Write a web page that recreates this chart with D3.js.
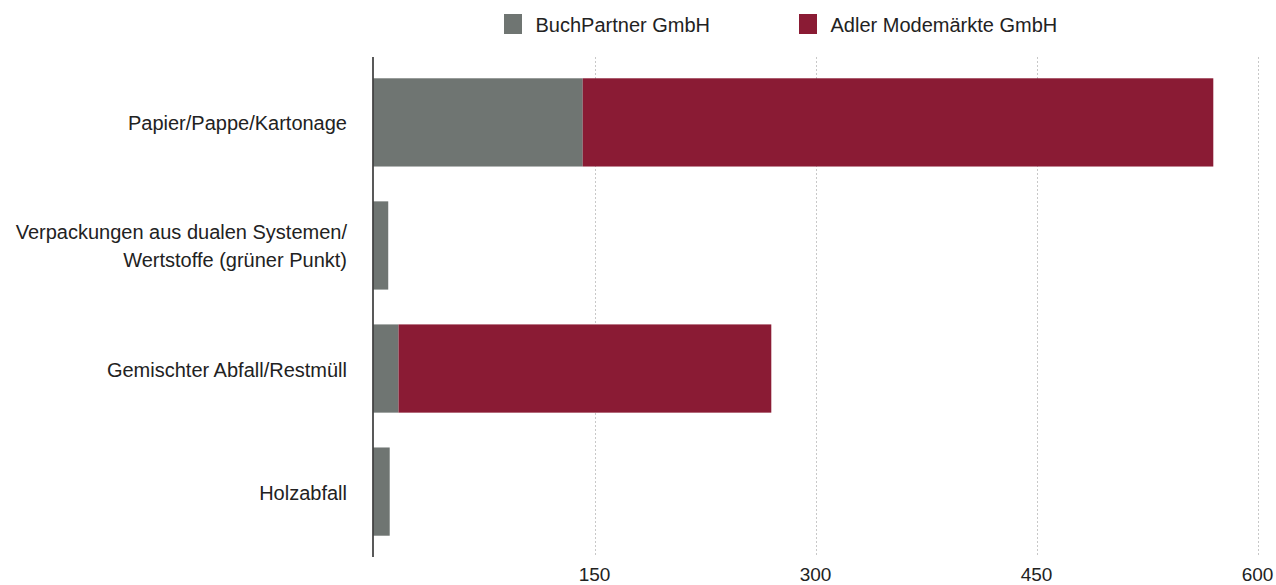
<!DOCTYPE html>
<html><head><meta charset="utf-8">
<script src="https://cdn.jsdelivr.net/npm/d3@7"></script>
<style>
html,body{margin:0;padding:0;background:#fff;}
text{font-family:"Liberation Sans",Arial,Helvetica,sans-serif;}
</style></head>
<body><svg id="c" width="1276" height="585"></svg>
<script>
const categories = [
  ["Papier/Pappe/Kartonage"],
  ["Verpackungen aus dualen Systemen/", "Wertstoffe (grüner Punkt)"],
  ["Gemischter Abfall/Restmüll"],
  ["Holzabfall"]
];
const seriesNames = ["BuchPartner GmbH", "Adler Modemärkte GmbH"];
const buchPartner = [142, 10, 17, 11];
const adler = [428, 0, 253, 0];
const tickValues = [150, 300, 450, 600];
const colors = ["#6f7572", "#8a1b34"];

const svg = d3.select("#c");
const x = d3.scaleLinear().domain([0, 600]).range([373.5, 1257.5]);
const keys = categories.map((c, i) => i);
const y = d3.scaleBand().domain(keys).range([57, 557]).paddingInner(0.283).paddingOuter(0.173);

// gridlines
svg.append("g").selectAll("line").data(tickValues).join("line")
  .attr("x1", d => Math.round(x(d)) + 0.5).attr("x2", d => Math.round(x(d)) + 0.5)
  .attr("y1", 57).attr("y2", 557)
  .attr("stroke", "#c8c8c8").attr("stroke-width", 1).attr("stroke-dasharray", "2,2");

// stacked data
const rows = keys.map(i => ({i, a: buchPartner[i], b: adler[i]}));
const stack = d3.stack().keys(["a", "b"])(rows);
svg.append("g").selectAll("g").data(stack).join("g")
  .attr("fill", (d, k) => colors[k])
  .selectAll("rect").data(d => d).join("rect")
  .attr("x", d => x(d[0]))
  .attr("width", d => Math.max(0, x(d[1]) - x(d[0])))
  .attr("y", d => y(d.data.i))
  .attr("height", y.bandwidth());

// axis line
svg.append("line").attr("x1", 373).attr("x2", 373).attr("y1", 57).attr("y2", 557)
  .attr("stroke", "#222").attr("stroke-width", 1.5);

// category labels
const lab = svg.append("g").selectAll("text").data(keys).join("text")
  .attr("text-anchor", "end").attr("font-size", 20).attr("fill", "#222");
lab.each(function(i) {
  const lines = categories[i];
  const cy = y(i) + y.bandwidth() / 2;
  const lh = 28;
  const t = d3.select(this);
  lines.forEach((ln, j) => {
    t.append("tspan").attr("x", 347)
      .attr("y", cy + (j - (lines.length - 1) / 2) * lh + 8)
      .text(ln);
  });
});

// tick labels
svg.append("g").selectAll("text").data(tickValues).join("text")
  .attr("x", d => x(d)).attr("y", 581).attr("text-anchor", "middle")
  .attr("font-size", 19).attr("fill", "#222").text(d => d);

// legend
const legX = [504, 799];
const leg = svg.append("g").selectAll("g").data(seriesNames).join("g")
  .attr("transform", (d, k) => `translate(${legX[k]},14)`);
leg.append("rect").attr("width", 18).attr("height", 20).attr("fill", (d, k) => colors[k]);
leg.append("text").attr("x", 31.5).attr("y", 17.7).attr("font-size", 20).attr("fill", "#222").text(d => d);
</script>
</body></html>
